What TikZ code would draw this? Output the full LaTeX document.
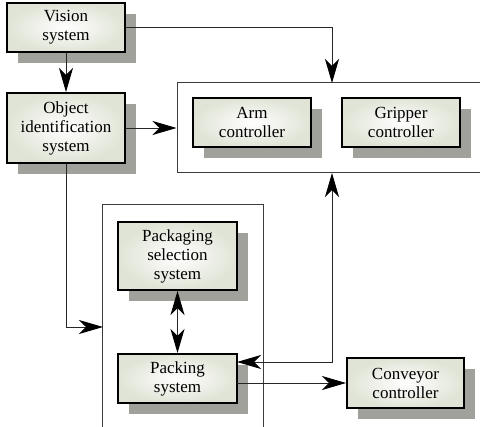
\documentclass[tikz,border=0pt]{standalone}
\usepackage{fontspec}
\setmainfont{Liberation Serif}
\usetikzlibrary{arrows.meta,shadows,calc}
\definecolor{boxedge}{RGB}{224,228,214}
\definecolor{shadowgray}{RGB}{160,161,155}
\definecolor{linegray}{RGB}{60,60,60}
\tikzset{
  sysbox/.style={draw=black, line width=2pt, inner color=white, outer color=boxedge,
    minimum width=118pt, align=center, inner sep=1pt, font=\fontsize{17pt}{19pt}\selectfont,
    drop shadow={shadow xshift=11pt, shadow yshift=-11pt, fill=shadowgray, opacity=1}},
  frame/.style={draw=linegray, line width=1pt, minimum width=#1},
  conn/.style={draw=black!85, line width=0.9pt},
  arr/.style={conn, -{Stealth[length=24pt, width=14pt, inset=7pt, fill=black, color=black]}},
  darr/.style={conn, {Stealth[length=24pt, width=14pt, inset=7pt, fill=black, color=black]}-{Stealth[length=24pt, width=14pt, inset=7pt, fill=black, color=black]}}
}
\begin{document}
\begin{tikzpicture}[x=1pt, y=-1pt]
\useasboundingbox (0,0) rectangle (480,427);
\clip (0,0) rectangle (480,427);
\fill[white] (0,0) rectangle (480,427);
% frames
\node[frame=318pt, minimum height=90pt] (armframe) at (336,128) {};
\node[draw=none, minimum width=160pt, minimum height=240pt, inner sep=0pt] (pkgframe) at (183,325) {};
\draw[draw=linegray, line width=1pt] (pkgframe.south west) |- (pkgframe.north east) -- (pkgframe.south east);
% boxes
\node[sysbox, minimum height=49pt] (vision) at (66,27.5) {Vision\\system};
\node[sysbox, minimum height=70pt] (object) at (66,128) {Object\\identification\\system};
\node[sysbox, minimum height=49pt] (arm) at (252,122.5) {Arm\\controller};
\node[sysbox, minimum height=49pt] (gripper) at (401,122.5) {Gripper\\controller};
\node[sysbox, minimum width=119pt, minimum height=68pt] (pkgsel) at (177.5,256) {Packaging\\selection\\system};
\node[sysbox, minimum width=119pt, minimum height=49pt] (packing) at (177.5,378.5) {Packing\\system};
\node[sysbox, minimum width=117pt, minimum height=50pt] (conveyor) at (405.5,383) {Conveyor\\controller};
% connector anchors
\coordinate (armtop) at (332,83);
\coordinate (armbot) at (332,173);
\coordinate (pkgin) at (103,327);
\coordinate (packin) at (237,362);
\coordinate (packout) at (237,383);
% connectors
\draw[arr] (vision) -- (object);
\draw[arr] (vision.east) -| (armtop);
\draw[arr] (object.east) -- (object.east -| armframe.west);
\draw[arr] (object.south) |- (pkgin);
\draw[darr] (pkgsel) -- (packing);
\draw[darr] (packin) -| (armbot);
\draw[arr] (packout) -- (packout -| conveyor.west);
\end{tikzpicture}
\end{document}
